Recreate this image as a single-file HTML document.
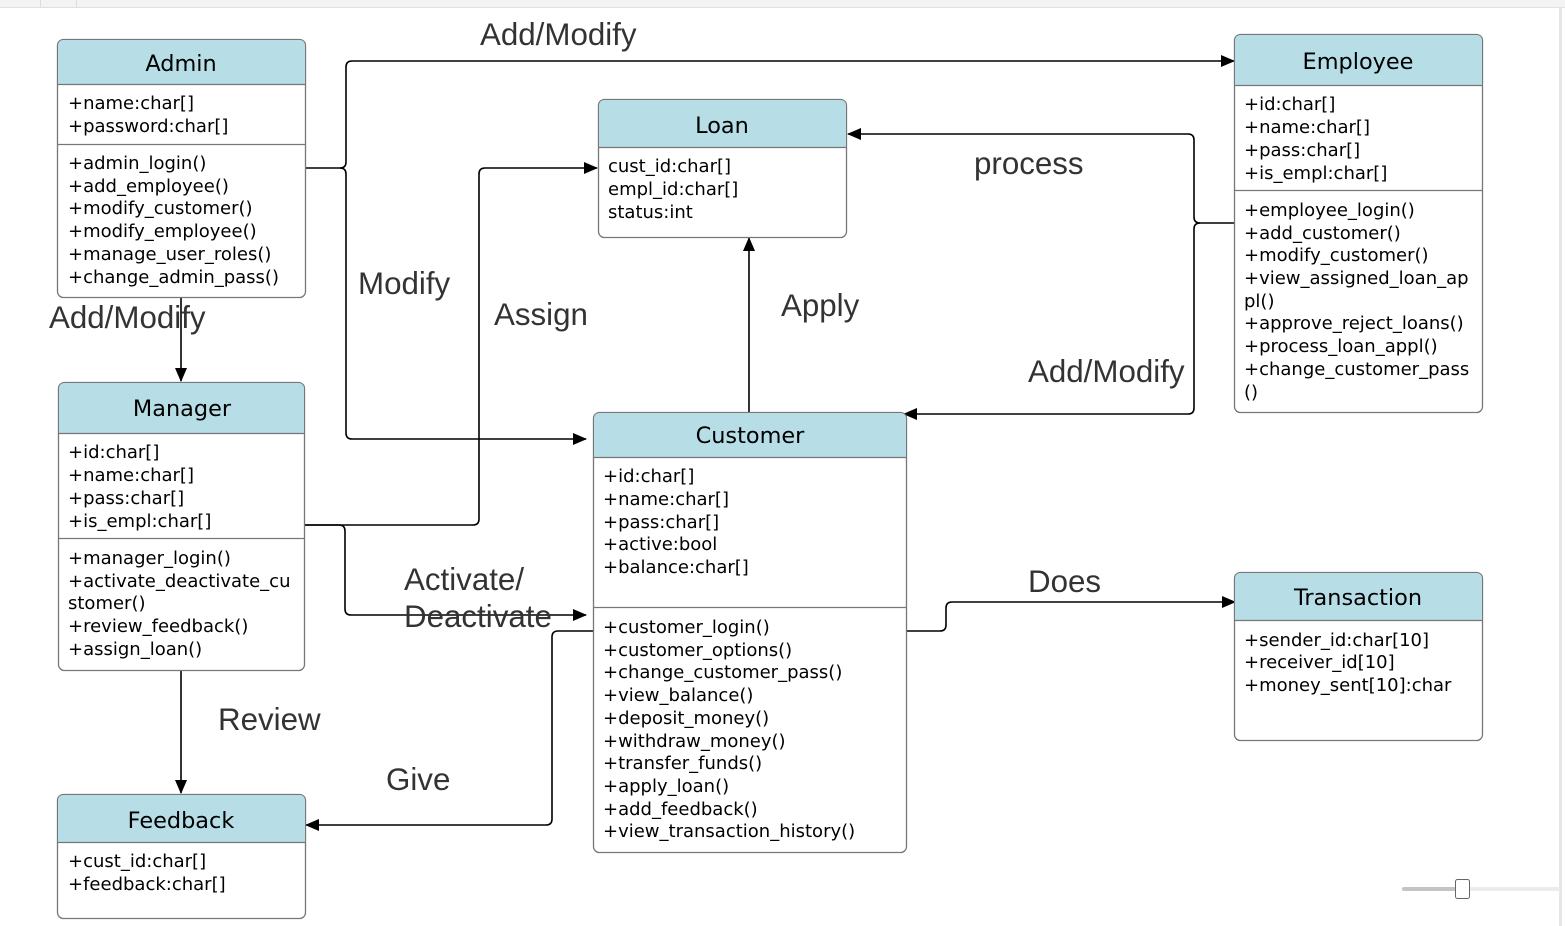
<!DOCTYPE html>
<html><head><meta charset="utf-8"><style>
html,body{margin:0;padding:0;background:#fff;}
svg{display:block;}
.c{font-family:"DejaVu Sans",sans-serif;font-size:18px;fill:#000;}
.h{font-family:"DejaVu Sans",sans-serif;font-size:22.4px;fill:#000;text-anchor:middle;}
.l{font-family:"Liberation Sans",sans-serif;font-size:31.3px;fill:#333;}
.box{fill:#fff;stroke:#777;stroke-width:1.3;}
.hd{fill:#b7dde7;}
.ln{fill:none;stroke:#000;stroke-width:1.6;}
.dv{stroke:#777;stroke-width:1.3;}
.t{transform:translateY(1px);}
</style></head><body>
<svg width="1565" height="926" viewBox="0 0 1565 926">
<defs><marker id="a" markerWidth="14" markerHeight="12" refX="13" refY="6" orient="auto" markerUnits="userSpaceOnUse"><path d="M0,0 L14,6 L0,12 z" fill="#000"/></marker></defs>
<rect x="0" y="0" width="1565" height="7" fill="#f3f3f3"/>
<line x1="0" y1="7.5" x2="1565" y2="7.5" stroke="#e0e0e0"/>
<line x1="40.5" y1="0" x2="40.5" y2="7" stroke="#ddd"/><line x1="76.5" y1="0" x2="76.5" y2="7" stroke="#ddd"/>
<line x1="1560.5" y1="7" x2="1560.5" y2="926" stroke="#e6e6e6" stroke-width="3"/>

<path class="ln" d="M305,168 H340 Q346,168 346,162 V67 Q346,61 352,61 H1234" marker-end="url(#a)"/>
<path class="ln" d="M340,168 Q346,168 346,174 V433 Q346,439 352,439 H586" marker-end="url(#a)"/>
<path class="ln" d="M181,297 V381" marker-end="url(#a)"/>
<path class="ln" d="M304,525 H473 Q479,525 479,519 V174 Q479,168 485,168 H597" marker-end="url(#a)"/>
<path class="ln" d="M304,525 H339 Q345,525 345,531 V609 Q345,615 351,615 H586" marker-end="url(#a)"/>
<path class="ln" d="M749,412 V238" marker-end="url(#a)"/>
<path class="ln" d="M1234,223 H1200 Q1194,223 1194,217 V140 Q1194,134 1188,134 H848" marker-end="url(#a)"/>
<path class="ln" d="M1200,223 Q1194,223 1194,229 V408 Q1194,414 1188,414 H904" marker-end="url(#a)"/>
<path class="ln" d="M906,631 H940 Q946,631 946,625 V608 Q946,602 952,602 H1235" marker-end="url(#a)"/>
<path class="ln" d="M593,631 H558 Q552,631 552,637 V819 Q552,825 546,825 H306" marker-end="url(#a)"/>
<path class="ln" d="M181,670 V793" marker-end="url(#a)"/>

<rect class="box" x="57.5" y="39.5" width="248" height="258" rx="6"/>
<path class="hd" d="M58,84 V46 Q58,40 64,40 H299 Q305,40 305,46 V84 Z"/>
<line class="dv" x1="57.5" y1="84.5" x2="305.5" y2="84.5"/><line class="dv" x1="57.5" y1="144.5" x2="305.5" y2="144.5"/>
<g class="t">
<text class="h" x="181" y="70">Admin</text>
<text class="c" x="68" y="108">+name:char[]</text><text class="c" x="68" y="131">+password:char[]</text>
<text class="c" x="68" y="168">+admin_login()</text><text class="c" x="68" y="191">+add_employee()</text><text class="c" x="68" y="213">+modify_customer()</text><text class="c" x="68" y="236">+modify_employee()</text><text class="c" x="68" y="259">+manage_user_roles()</text><text class="c" x="68" y="282">+change_admin_pass()</text>
</g>

<rect class="box" x="598.5" y="99.5" width="248" height="138" rx="6"/>
<path class="hd" d="M599,147 V106 Q599,100 605,100 H840 Q846,100 846,106 V147 Z"/>
<line class="dv" x1="598.5" y1="147.5" x2="846.5" y2="147.5"/>
<g class="t">
<text class="h" x="722" y="132">Loan</text>
<text class="c" x="608" y="171">cust_id:char[]</text><text class="c" x="608" y="194">empl_id:char[]</text><text class="c" x="608" y="217">status:int</text>
</g>

<rect class="box" x="1234.5" y="34.5" width="248" height="378" rx="6"/>
<path class="hd" d="M1235,85 V41 Q1235,35 1241,35 H1476 Q1482,35 1482,41 V85 Z"/>
<line class="dv" x1="1234.5" y1="85.5" x2="1482.5" y2="85.5"/><line class="dv" x1="1234.5" y1="190.5" x2="1482.5" y2="190.5"/>
<g class="t">
<text class="h" x="1358" y="68">Employee</text>
<text class="c" x="1244" y="109">+id:char[]</text><text class="c" x="1244" y="132">+name:char[]</text><text class="c" x="1244" y="155">+pass:char[]</text><text class="c" x="1244" y="178">+is_empl:char[]</text>
<text class="c" x="1244" y="215">+employee_login()</text><text class="c" x="1244" y="238">+add_customer()</text><text class="c" x="1244" y="260">+modify_customer()</text><text class="c" x="1244" y="283">+view_assigned_loan_ap</text><text class="c" x="1244" y="306">pl()</text><text class="c" x="1244" y="328">+approve_reject_loans()</text><text class="c" x="1244" y="351">+process_loan_appl()</text><text class="c" x="1244" y="374">+change_customer_pass</text><text class="c" x="1244" y="397">()</text>
</g>

<rect class="box" x="58.5" y="382.5" width="246" height="288" rx="6"/>
<path class="hd" d="M59,433 V389 Q59,383 65,383 H298 Q304,383 304,389 V433 Z"/>
<line class="dv" x1="58.5" y1="433.5" x2="304.5" y2="433.5"/><line class="dv" x1="58.5" y1="538.5" x2="304.5" y2="538.5"/>
<g class="t">
<text class="h" x="182" y="415">Manager</text>
<text class="c" x="68" y="457">+id:char[]</text><text class="c" x="68" y="480">+name:char[]</text><text class="c" x="68" y="503">+pass:char[]</text><text class="c" x="68" y="526">+is_empl:char[]</text>
<text class="c" x="68" y="563">+manager_login()</text><text class="c" x="68" y="586">+activate_deactivate_cu</text><text class="c" x="68" y="608">stomer()</text><text class="c" x="68" y="631">+review_feedback()</text><text class="c" x="68" y="654">+assign_loan()</text>
</g>

<rect class="box" x="593.5" y="412.5" width="313" height="440" rx="6"/>
<path class="hd" d="M594,457 V419 Q594,413 600,413 H900 Q906,413 906,419 V457 Z"/>
<line class="dv" x1="593.5" y1="457.5" x2="906.5" y2="457.5"/><line class="dv" x1="593.5" y1="607.5" x2="906.5" y2="607.5"/>
<g class="t">
<text class="h" x="750" y="442">Customer</text>
<text class="c" x="603" y="481">+id:char[]</text><text class="c" x="603" y="504">+name:char[]</text><text class="c" x="603" y="527">+pass:char[]</text><text class="c" x="603" y="549">+active:bool</text><text class="c" x="603" y="572">+balance:char[]</text>
<text class="c" x="603" y="632">+customer_login()</text><text class="c" x="603" y="655">+customer_options()</text><text class="c" x="603" y="677">+change_customer_pass()</text><text class="c" x="603" y="700">+view_balance()</text><text class="c" x="603" y="723">+deposit_money()</text><text class="c" x="603" y="746">+withdraw_money()</text><text class="c" x="603" y="768">+transfer_funds()</text><text class="c" x="603" y="791">+apply_loan()</text><text class="c" x="603" y="814">+add_feedback()</text><text class="c" x="603" y="836">+view_transaction_history()</text>
</g>

<rect class="box" x="1234.5" y="572.5" width="248" height="168" rx="6"/>
<path class="hd" d="M1235,620 V579 Q1235,573 1241,573 H1476 Q1482,573 1482,579 V620 Z"/>
<line class="dv" x1="1234.5" y1="620.5" x2="1482.5" y2="620.5"/>
<g class="t">
<text class="h" x="1358" y="604">Transaction</text>
<text class="c" x="1244" y="645">+sender_id:char[10]</text><text class="c" x="1244" y="667">+receiver_id[10]</text><text class="c" x="1244" y="690">+money_sent[10]:char</text>
</g>

<rect class="box" x="57.5" y="794.5" width="248" height="124" rx="6"/>
<path class="hd" d="M58,842 V801 Q58,795 64,795 H299 Q305,795 305,801 V842 Z"/>
<line class="dv" x1="57.5" y1="842.5" x2="305.5" y2="842.5"/>
<g class="t">
<text class="h" x="181" y="827">Feedback</text>
<text class="c" x="68" y="866">+cust_id:char[]</text><text class="c" x="68" y="889">+feedback:char[]</text>
</g>

<text class="l" x="480" y="45">Add/Modify</text>
<text class="l" x="358" y="294">Modify</text>
<text class="l" x="494" y="325">Assign</text>
<text class="l" x="49" y="328">Add/Modify</text>
<text class="l" x="974" y="174">process</text>
<text class="l" x="781" y="316">Apply</text>
<text class="l" x="1028" y="382">Add/Modify</text>
<text class="l" x="404" y="590">Activate/</text>
<text class="l" x="404" y="627">Deactivate</text>
<text class="l" x="1028" y="592">Does</text>
<text class="l" x="218" y="730">Review</text>
<text class="l" x="386" y="790">Give</text>

<rect x="1402" y="887" width="60" height="4" rx="2" fill="#c4c4c4"/>
<rect x="1462" y="887" width="98" height="4" rx="2" fill="#ececec"/>
<rect x="1455.5" y="879.5" width="14" height="19" rx="2" fill="#fff" stroke="#666"/>
</svg>
</body></html>
